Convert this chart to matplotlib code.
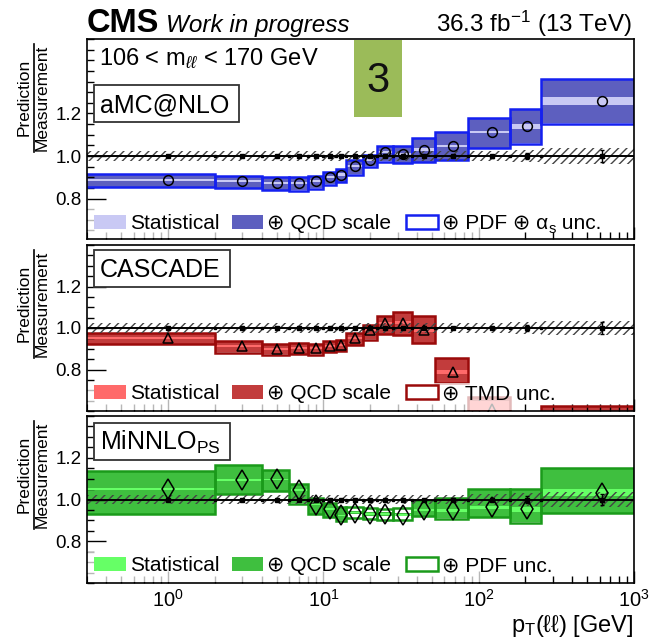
import numpy as np
import matplotlib
matplotlib.use("Agg")
import matplotlib.pyplot as plt
from matplotlib.patches import Rectangle
from matplotlib.lines import Line2D
from matplotlib.ticker import FixedLocator, NullFormatter, LogLocator

plt.rcParams['font.family'] = ['Liberation Sans', 'DejaVu Sans']
plt.rcParams['mathtext.fontset'] = 'custom'
plt.rcParams['mathtext.rm'] = 'Liberation Sans'
plt.rcParams['mathtext.it'] = 'Liberation Sans:italic'
plt.rcParams['mathtext.bf'] = 'Liberation Sans:bold'
plt.rcParams['hatch.linewidth'] = 1.0

# pT(ll) binning [GeV]
edges = [0, 2, 4, 6, 8, 10, 12, 14, 18, 22, 28, 37, 52, 85, 160, 250, 1000]

# measurement: relative uncertainty band and point errors
meas_band = [0.022, 0.022, 0.022, 0.022, 0.022, 0.022, 0.022, 0.022, 0.022, 0.022,
             0.022, 0.022, 0.023, 0.025, 0.030, 0.036]
meas_err = [0.004, 0.003, 0.003, 0.003, 0.003, 0.003, 0.003, 0.003, 0.003, 0.003,
            0.003, 0.004, 0.005, 0.007, 0.016, 0.027]

# aMC@NLO
amc_val = [0.888, 0.882, 0.872, 0.872, 0.883, 0.900, 0.913, 0.952, 0.980, 1.018,
           1.009, 1.029, 1.048, 1.112, 1.140, 1.258]
amc_stat = [0.005, 0.005, 0.005, 0.005, 0.005, 0.005, 0.005, 0.005, 0.005, 0.005,
            0.005, 0.007, 0.006, 0.004, 0.012, 0.020]
amc_qcd_lo = [0.855, 0.851, 0.840, 0.840, 0.850, 0.868, 0.880, 0.915, 0.951, 0.976,
              0.967, 0.973, 0.981, 1.039, 1.059, 1.153]
amc_qcd_hi = [0.914, 0.906, 0.898, 0.899, 0.903, 0.925, 0.938, 0.978, 1.005, 1.043,
              1.047, 1.083, 1.110, 1.176, 1.218, 1.358]
amc_tot_lo = [0.853, 0.849, 0.838, 0.837, 0.847, 0.866, 0.878, 0.913, 0.949, 0.974,
              0.965, 0.971, 0.979, 1.037, 1.057, 1.151]
amc_tot_hi = [0.916, 0.908, 0.900, 0.901, 0.905, 0.927, 0.940, 0.980, 1.007, 1.045,
              1.049, 1.085, 1.112, 1.178, 1.220, 1.360]

# CASCADE
cas_val = [0.953, 0.913, 0.900, 0.905, 0.903, 0.914, 0.919, 0.953, 0.989, 1.024,
           1.026, 0.989, 0.786, 0.610, 0.500, 0.450]
cas_stat = [0.005, 0.005, 0.005, 0.005, 0.005, 0.005, 0.005, 0.005, 0.005, 0.006,
            0.007, 0.008, 0.010, 0.040, 0.040, 0.040]
cas_qcd_lo = [0.923, 0.882, 0.874, 0.877, 0.874, 0.887, 0.890, 0.919, 0.945, 0.973,
              0.966, 0.928, 0.735, 0.550, 0.420, 0.350]
cas_qcd_hi = [0.974, 0.933, 0.922, 0.927, 0.922, 0.935, 0.941, 0.974, 1.011, 1.058,
              1.077, 1.055, 0.854, 0.665, 0.580, 0.623]
cas_tot_lo = [0.921, 0.880, 0.872, 0.875, 0.872, 0.885, 0.888, 0.917, 0.943, 0.971,
              0.964, 0.926, 0.733, 0.548, 0.418, 0.348]
cas_tot_hi = [0.976, 0.935, 0.924, 0.929, 0.924, 0.937, 0.943, 0.976, 1.013, 1.060,
              1.079, 1.057, 0.856, 0.667, 0.582, 0.625]

# MiNNLO_PS
mnl_val = [1.049, 1.094, 1.096, 1.044, 0.976, 0.954, 0.924, 0.937, 0.930, 0.930,
           0.927, 0.951, 0.948, 0.963, 0.954, 1.033]
mnl_stat = [0.004, 0.004, 0.004, 0.004, 0.004, 0.004, 0.004, 0.004, 0.004, 0.004,
            0.004, 0.005, 0.006, 0.008, 0.012, 0.018]
mnl_qcd_lo = [0.932, 1.026, 1.043, 0.981, 0.932, 0.917, 0.900, 0.929, 0.922, 0.922,
              0.919, 0.921, 0.909, 0.917, 0.891, 0.937]
mnl_qcd_hi = [1.136, 1.161, 1.139, 1.071, 1.006, 0.982, 0.961, 0.945, 0.938, 0.938,
              0.935, 0.995, 1.003, 1.047, 1.050, 1.148]
mnl_tot_lo = [0.930, 1.024, 1.041, 0.979, 0.930, 0.915, 0.898, 0.909, 0.906, 0.904,
              0.902, 0.919, 0.907, 0.915, 0.889, 0.935]
mnl_tot_hi = [1.138, 1.163, 1.141, 1.073, 1.008, 0.984, 0.963, 0.964, 0.959, 0.956,
              0.958, 0.997, 1.005, 1.049, 1.052, 1.150]

x_ticks = [1, 10, 100, 1000]
x_ticklabels = ['$10^{0}$', '$10^{1}$', '$10^{2}$', '$10^{3}$']
y_ticks = [0.8, 1.0, 1.2]
y_ticklabels = ['0.8', '1.0', '1.2']

W, H = 654, 640
fig = plt.figure(figsize=(W / 100, H / 100), dpi=100)
renderer = fig.canvas.get_renderer()


def fx(px):
    return px / W


def fy(py):
    return 1 - py / H


def seq_text(x_px, y_px, pieces, **kw):
    """place text pieces one after another on a common baseline (pixels)"""
    x = x_px
    for txt, size, dy in pieces:
        t = fig.text(fx(x), fy(y_px + dy), txt, fontsize=size, ha='left',
                     va='baseline', **kw)
        bb = t.get_window_extent(renderer)
        x = bb.x1
    return x


XMIN, XMAX = 0.3, 1000
panels = [
    dict(box=(87, 39, 634, 239), ylim=(0.61, 1.55), name='aMC@NLO',
         val=amc_val, stat=amc_stat, qlo=amc_qcd_lo, qhi=amc_qcd_hi,
         tlo=amc_tot_lo, thi=amc_tot_hi, marker='o', ms=7.0,
         c_stat='#c9c9f4', c_qcd='#5d5fbf', c_edge='#1420f0',
         leg3=[('⊕ PDF ⊕ α', 15, 0), ('s', 10.5, 4), (' unc.', 15, 0)]),
    dict(box=(87, 245, 634, 411), ylim=(0.6, 1.4), name='CASCADE',
         val=cas_val, stat=cas_stat, qlo=cas_qcd_lo, qhi=cas_qcd_hi,
         tlo=cas_tot_lo, thi=cas_tot_hi, marker='^', ms=7.5,
         c_stat='#ff6a6a', c_qcd='#c23c3c', c_edge='#9a0a0a',
         leg3=[('⊕ TMD unc.', 15, 0)]),
    dict(box=(87, 416, 634, 583), ylim=(0.6, 1.4), name='MiNNLO$_{\\mathrm{PS}}$',
         val=mnl_val, stat=mnl_stat, qlo=mnl_qcd_lo, qhi=mnl_qcd_hi,
         tlo=mnl_tot_lo, thi=mnl_tot_hi, marker='d', ms=10,
         c_stat='#66ff66', c_qcd='#3fbf3f', c_edge='#1a9a1a',
         leg3=[('⊕ PDF unc.', 15, 0)]),
]

lo_edges = np.array([max(e, 1e-2) for e in edges[:-1]])
hi_edges = np.array(edges[1:], dtype=float)
widths = hi_edges - lo_edges
centers = 0.5 * (np.array(edges[:-1]) + np.array(edges[1:]))

for ip, p in enumerate(panels):
    x0, y0, x1, y1 = p['box']
    ax = fig.add_axes([x0 / W, 1 - y1 / H, (x1 - x0) / W, (y1 - y0) / H])
    ax.set_xscale('log')
    ax.set_xlim(XMIN, XMAX)
    ax.set_ylim(*p['ylim'])

    val = np.array(p['val'])
    stat = np.array(p['stat'])
    qlo, qhi = np.array(p['qlo']), np.array(p['qhi'])
    tlo, thi = np.array(p['tlo']), np.array(p['thi'])

    # total (outline), QCD scale (fill), statistical band
    ax.bar(lo_edges, thi - tlo, width=widths, bottom=tlo, align='edge',
           facecolor='none', edgecolor=p['c_edge'], linewidth=1.8, zorder=2)
    ax.bar(lo_edges, qhi - qlo, width=widths, bottom=qlo, align='edge',
           facecolor=p['c_qcd'], edgecolor='none', zorder=1.5)
    ax.bar(lo_edges, 2 * stat, width=widths, bottom=val - stat, align='edge',
           facecolor=p['c_stat'], edgecolor='none', zorder=1.8)

    # measurement band
    band = np.array(meas_band)
    ax.bar(lo_edges, 2 * band, width=widths, bottom=1 - band, align='edge',
           facecolor='none', edgecolor='#444444', hatch='////', linewidth=0,
           zorder=3)
    ax.axhline(1.0, color='black', linewidth=1.4, zorder=4)
    ax.errorbar(centers, np.ones_like(centers), yerr=meas_err, fmt='s',
                color='black', ms=2.5, capsize=1.5, elinewidth=1.0, zorder=5)
    ax.plot(hi_edges[:-1], np.ones(len(hi_edges) - 1), 's', color='black',
            ms=1.6, zorder=5)

    # prediction markers
    ax.plot(centers, val, linestyle='none', marker=p['marker'], ms=p['ms'],
            mfc='none', mec='black', mew=1.1, zorder=6)

    # translucent legend background
    lyb = {0: 206, 1: 383, 2: 552}[ip]
    ax.add_patch(Rectangle((fx(88), fy(y1 - 1)), (520 - 88) / W, (y1 - 1 - lyb) / H,
                           transform=fig.transFigure, facecolor='white',
                           edgecolor='none', alpha=0.72, zorder=7))

    # axes styling
    for s in ax.spines.values():
        s.set_linewidth(1.2)
        s.set_zorder(8)
    ax.yaxis.set_major_locator(FixedLocator(y_ticks))
    ax.yaxis.set_minor_locator(FixedLocator(np.arange(0.6, 1.6, 0.05)))
    ax.set_yticklabels(y_ticklabels, fontsize=13.5)
    ax.xaxis.set_major_locator(FixedLocator(x_ticks))
    ax.xaxis.set_minor_locator(LogLocator(base=10, subs=np.arange(2, 10)))
    ax.xaxis.set_minor_formatter(NullFormatter())
    ax.tick_params(axis='both', which='major', direction='in', length=9,
                   width=1.0, top=False, right=False, pad=4)
    ax.tick_params(axis='both', which='minor', direction='in', length=5,
                   width=1.0, top=False, right=False)
    ax.tick_params(axis='y', which='major', length=14)
    if ip == 2:
        ax.set_xticklabels(x_ticklabels, fontsize=14.5)
    else:
        ax.set_xticklabels([])

    # model name box
    bh = 37
    nx0, ny0 = 94, (85 if ip == 0 else (250 if ip == 1 else 423))
    nx1 = 239 if ip == 0 else 230
    fig.patches.append(Rectangle((fx(nx0), fy(ny0 + bh)), (nx1 - nx0) / W, bh / H,
                                 transform=fig.transFigure, facecolor='white',
                                 edgecolor='#333333', linewidth=1.3, zorder=10))
    fig.text(fx(100), fy(ny0 + 27), p['name'], fontsize=18,
             ha='left', va='baseline', zorder=11)

    # legend row
    ly = {0: 221.7, 1: 392.0, 2: 564.0}[ip]
    sq = [(94, 126), (232, 263), (406, 438)]
    tx = [130, 267, 442]
    for k in range(3):
        a, b = sq[k]
        if k == 0:
            fc, ec = p['c_stat'], 'none'
        elif k == 1:
            fc, ec = p['c_qcd'], 'none'
        else:
            fc, ec = 'white', p['c_edge']
        fig.patches.append(Rectangle((fx(a), fy(ly + 7)), (b - a) / W, 14 / H,
                                     transform=fig.transFigure, facecolor=fc,
                                     edgecolor=ec, linewidth=1.8, zorder=10))
    seq_text(tx[0], ly + 7, [('Statistical', 15, 0)], zorder=11)
    seq_text(tx[1], ly + 7, [('⊕ QCD scale', 15, 0)], zorder=11)
    seq_text(tx[2], ly + 7, p['leg3'], zorder=11)

    # y-axis title as a fraction, aligned to the top of the frame
    top = y0 + 5
    meas_len = 107
    cy = top + meas_len / 2
    fig.text(fx(32), fy(cy), 'Prediction', rotation=90, fontsize=12.5,
             ha='center', va='bottom', rotation_mode='anchor')
    fig.text(fx(35), fy(cy), 'Measurement', rotation=90, fontsize=12.5,
             ha='center', va='top', rotation_mode='anchor')
    fig.lines.append(Line2D([fx(33.5), fx(33.5)], [fy(cy - 54), fy(cy + 54)],
                            transform=fig.transFigure, color='black', linewidth=1.2))

# header
fig.text(fx(87), fy(32), 'CMS', fontsize=23.5, fontweight='bold', ha='left',
         va='baseline')
fig.text(fx(166), fy(32), 'Work in progress', fontsize=17.5, style='italic',
         ha='left', va='baseline')
fig.text(fx(632), fy(32), '36.3 fb$^{-1}$ (13 TeV)', fontsize=17.5, ha='right',
         va='baseline')
fig.text(fx(99), fy(65), '106 < m$_{ℓℓ}$ < 170 GeV', fontsize=17, ha='left',
         va='baseline')

# bin label
fig.patches.append(Rectangle((fx(354), fy(117)), 48 / W, 77 / H,
                             transform=fig.transFigure, facecolor='#9bbb59',
                             edgecolor='none', zorder=12))
fig.text(fx(378), fy(81), '3', fontsize=30, ha='center', va='center', zorder=13,
         color='#111111')

# x-axis title
fig.text(fx(633), fy(632), 'p$_{\\mathrm{T}}$(ℓℓ) [GeV]', fontsize=17,
         ha='right', va='baseline')

fig.savefig('out.png', dpi=100)
